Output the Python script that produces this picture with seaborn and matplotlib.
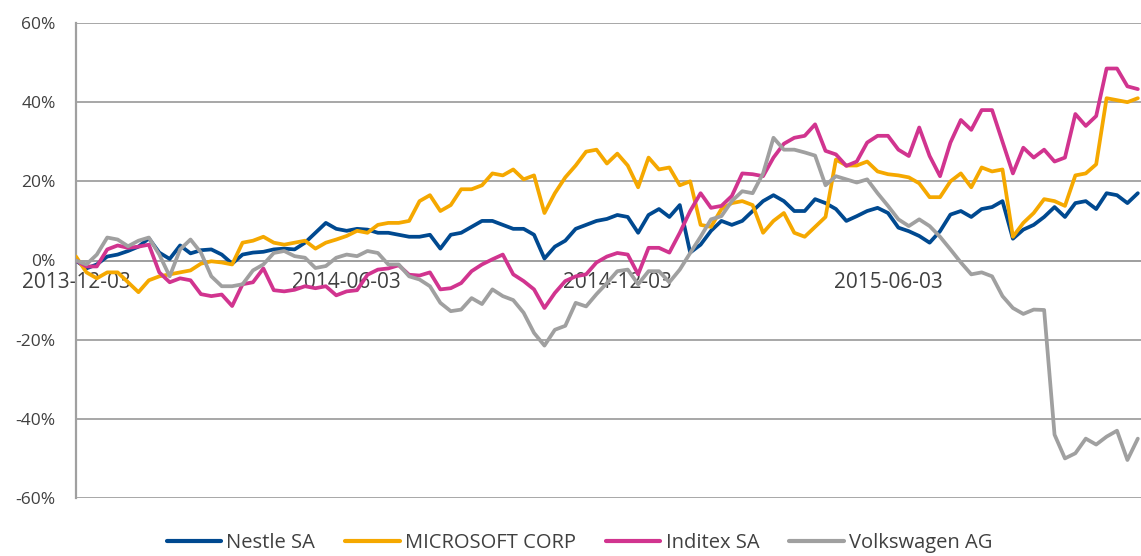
import numpy as np
import pandas as pd
import seaborn as sns
import matplotlib.pyplot as plt
from matplotlib.lines import Line2D

# weekly readings (% change since 2013-12-03)
tick_labels = ["2013-12-03", "2014-06-03", "2014-12-03", "2015-06-03"]
tick_weeks = [0, 26, 52, 78]

y_ticks = [-60, -40, -20, 0, 20, 40, 60]
y_labels = ["-60%", "-40%", "-20%", "0%", "20%", "40%", "60%"]

nestle = [0, -2, -1, 1, 1.5, 2.4, 3.5, 5.6, 2, 0.4,
          3.8, 1.8, 2.6, 2.8, 1.5, -0.8, 1.5, 2, 2.2, 2.8,
          3, 2.8, 4.5, 7, 9.5, 8, 7.5, 8, 7.8, 7,
          7, 6.5, 6, 6, 6.5, 3, 6.5, 7, 8.5, 10,
          10, 9, 8, 8, 6.5, 0.5, 3.5, 5, 8, 9,
          10, 10.5, 11.5, 11, 7, 11.5, 13, 11, 14, 2,
          4, 7.5, 10, 9, 10, 12.5, 15, 16.5, 15, 12.5,
          12.5, 15.5, 14.5, 13, 10, 11.2, 12.5, 13.3, 12, 8.3,
          7.4, 6.2, 4.5, 7.4, 11.6, 12.5, 11, 13, 13.5, 15,
          5.5, 7.8, 9, 11, 13.5, 11, 14.5, 15, 13, 17,
          16.5, 14.5, 17]

microsoft = [1, -3, -4.5, -3, -3, -5.5, -8, -5, -4, -3.5,
             -3, -2.5, -0.8, -0.2, -0.5, -1, 4.5, 5, 6, 4.5,
             4, 4.5, 5, 3, 4.5, 5.3, 6.2, 7.5, 7, 9,
             9.5, 9.5, 10, 15, 16.5, 12.5, 14, 18, 18, 19,
             22, 21.5, 23, 20.5, 21.5, 12, 17, 21, 24, 27.5,
             28, 24.5, 27, 24, 18.5, 26, 23, 23.5, 19, 20,
             9, 8.5, 13, 14.5, 15, 14, 7, 10, 12, 7,
             6, 8.5, 11, 25.5, 24, 24, 25, 22.5, 21.8, 21.5,
             21, 19.5, 16, 16, 20, 22, 18.5, 23.5, 22.5, 23,
             6, 9.5, 12, 15.5, 15, 13.8, 21.5, 22, 24.3, 41,
             40.5, 40, 41]

inditex = [0, -1.5, -1.5, 2.8, 3.8, 3.2, 3.5, 4, -3, -5.5,
           -4.5, -5, -8.5, -9, -8.6, -11.5, -6, -5.5, -2, -7.5,
           -7.8, -7.4, -6.5, -7, -6.5, -8.8, -7.8, -7.5, -3.6, -2.3,
           -2, -1.2, -3.6, -3.8, -3, -7.3, -7, -5.7, -2.7, -1,
           0.3, 1.5, -3.5, -5.2, -7.3, -12, -8.2, -5.2, -4, -3.5,
           -0.5, 1, 1.9, 1.5, -3.5, 3.2, 3.2, 2, 7, 12.5,
           17, 13.3, 13.8, 16.3, 22, 21.8, 21.3, 26, 29.5, 31,
           31.5, 34.4, 27.7, 26.8, 23.9, 25, 29.8, 31.5, 31.5, 28,
           26.4, 33.6, 26.4, 21.3, 29.8, 35.5, 33, 38, 38, 30,
           22, 28.5, 26, 28, 25, 26, 37, 34, 36.5, 48.5,
           48.5, 44, 43.3]

volkswagen = [0, -1, 1.5, 5.8, 5.3, 3.6, 5, 5.8, 1.5, -4,
              2.8, 5.3, 2, -4, -6.5, -6.5, -6, -2.5, -1, 1.9,
              2.4, 1.1, 0.7, -1.9, -1.4, 0.7, 1.5, 1.1, 2.4, 1.9,
              -1, -1, -4, -4.8, -6.5, -10.7, -12.8, -12.4, -9.5, -11,
              -7.3, -9, -10, -13.2, -18.3, -21.5, -17.5, -16.5, -10.7, -11.6,
              -8.5, -5.7, -2.7, -2.3, -6, -2.7, -2.7, -5.5, -2.3, 1.9,
              6, 10.4, 11.2, 15, 17.5, 17, 22, 31, 28, 28,
              27.3, 26.5, 19, 21.3, 20.5, 19.7, 20.5, 17, 13.8, 10.4,
              8.7, 10.4, 8.7, 6, 2.8, -0.5, -3.5, -3, -4, -9,
              -12, -13.5, -12.4, -12.5, -44, -50, -48.7, -45, -46.5, -44.5,
              -43, -50.4, -45]

names = ["Nestle SA", "MICROSOFT CORP", "Inditex SA", "Volkswagen AG"]
colors = ["#004990", "#F5A800", "#D1348F", "#A0A0A0"]

series = [nestle, microsoft, inditex, volkswagen]
n = len(nestle)
df = pd.DataFrame({
    "week": np.tile(np.arange(n), len(names)),
    "value": np.concatenate(series),
    "name": np.repeat(names, n),
})

sns.set_style("white")
plt.rcParams["font.family"] = ["Open Sans", "DejaVu Sans"]
plt.rcParams["axes.unicode_minus"] = False

grid_col = "#A0A0A0"
text_col = "#404040"

fig = plt.figure(figsize=(11.41, 5.56), dpi=100)
ax = fig.add_axes([76 / 1141, 1 - 498 / 556, 1 - 76 / 1141, (498 - 23) / 556])

sns.lineplot(data=df, x="week", y="value", hue="name", hue_order=names,
             palette=dict(zip(names, colors)), linewidth=2.7, ax=ax,
             legend=False, zorder=3)

ax.set_xlim(0, (1141 - 76) / 10.41)
ax.set_ylim(-60, 60)
ax.set_yticks(y_ticks)
ax.set_yticklabels(y_labels)
ax.set_xticks(tick_weeks)
ax.set_xticklabels(tick_labels)
ax.set_xlabel("")
ax.set_ylabel("")

for y in y_ticks:
    ax.axhline(y, color=grid_col, linewidth=1.3, zorder=1)

for s in ["top", "right"]:
    ax.spines[s].set_visible(False)
ax.spines["bottom"].set_position(("data", 0))
ax.spines["bottom"].set_color(grid_col)
ax.spines["bottom"].set_linewidth(1.3)
ax.spines["left"].set_color(grid_col)
ax.spines["left"].set_linewidth(1.6)

ax.tick_params(axis="y", length=4.5, width=1.3, color=grid_col, pad=10,
               labelsize=12.5, labelcolor=text_col)
ax.tick_params(axis="x", length=4, width=1, color=grid_col, pad=4,
               labelsize=15, labelcolor=text_col)

handles = [Line2D([], [], color=c, linewidth=3) for c in colors]
fig.legend(handles, names, loc="center", bbox_to_anchor=(0.508, 0.023),
           ncol=4, frameon=False, fontsize=14.5, labelcolor=text_col,
           handlelength=2.7, handletextpad=0.25, columnspacing=1.5)

fig.savefig("out.png", dpi=100)
